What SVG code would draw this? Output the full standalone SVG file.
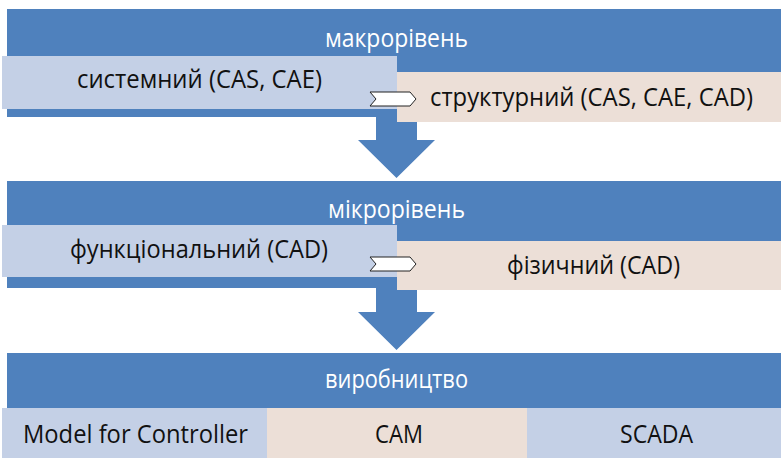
<svg xmlns="http://www.w3.org/2000/svg" width="781" height="458" viewBox="0 0 781 458">
<style>
.band{fill:#4f81bd}
.lb{fill:#c4d0e6}
.pe{fill:#ecdfd7}
.t{font-family:"Open Sans","Noto Sans","Liberation Sans",sans-serif;font-size:25px;fill:#111;text-anchor:middle}
.w{fill:#fff}
.bigarrow{fill:#4f81bd}
.chev{fill:#fff;stroke:#222;stroke-width:1}
</style>
<rect width="781" height="458" fill="#fff"/>
<g id="macro">
<rect class="band" x="7" y="9" width="774" height="108"/>
<text class="t w" x="396.5" y="47" textLength="143" lengthAdjust="spacingAndGlyphs">макрорівень</text>
</g>
<g id="micro">
<rect class="band" x="7" y="181" width="774" height="107"/>
<text class="t w" x="396.5" y="218" textLength="137" lengthAdjust="spacingAndGlyphs">мікрорівень</text>
</g>
<g id="production">
<rect class="band" x="7" y="353" width="774" height="55"/>
<text class="t w" x="396.5" y="388" textLength="143" lengthAdjust="spacingAndGlyphs">виробництво</text>
</g>
<g id="connectors">
<polygon class="bigarrow" points="376,110 417,110 417,140 435,140 396.5,178 358,140 376,140"/>
<polygon class="bigarrow" points="376,280 417,280 417,312 435,312 396.5,350 358,312 376,312"/>
</g>
<g id="system">
<rect class="lb" x="2" y="56" width="395" height="53"/>
<text class="t" x="199.5" y="88" textLength="245" lengthAdjust="spacingAndGlyphs">системний (CAS, CAE)</text>
</g>
<g id="structural">
<rect class="pe" x="397" y="72" width="384" height="50"/>
<text class="t" x="591.5" y="105.5" textLength="323" lengthAdjust="spacingAndGlyphs">структурний (CAS, CAE, CAD)</text>
</g>
<g id="functional">
<rect class="lb" x="2" y="225" width="395" height="52"/>
<text class="t" x="199" y="258" textLength="258" lengthAdjust="spacingAndGlyphs">функціональний (CAD)</text>
</g>
<g id="physical">
<rect class="pe" x="397" y="241" width="384" height="49"/>
<text class="t" x="593.5" y="274" textLength="173" lengthAdjust="spacingAndGlyphs">фізичний (CAD)</text>
</g>
<g id="model">
<rect class="lb" x="2" y="408" width="265" height="50"/>
<text class="t" x="135.5" y="443" textLength="225" lengthAdjust="spacingAndGlyphs">Model for Controller</text>
</g>
<g id="cam">
<rect class="pe" x="267" y="408" width="260" height="50"/>
<text class="t" x="399" y="443" textLength="48" lengthAdjust="spacingAndGlyphs">CAM</text>
</g>
<g id="scada">
<rect class="lb" x="527" y="408" width="254" height="50"/>
<text class="t" x="656.5" y="443" textLength="73" lengthAdjust="spacingAndGlyphs">SCADA</text>
</g>
<g id="chevrons">
<polygon class="chev" points="370,92 410,92 416,99 410,106 370,106 376,99"/>
<polygon class="chev" points="370,257 410,257 416,264 410,271 370,271 376,264"/>
</g>
</svg>
